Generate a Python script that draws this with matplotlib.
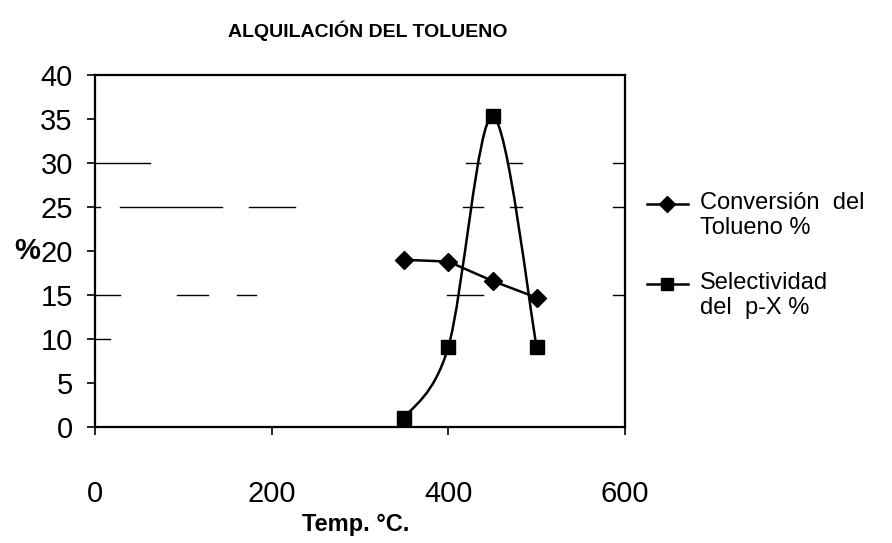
import numpy as np
import matplotlib
matplotlib.use("Agg")
import matplotlib.pyplot as plt
from matplotlib.path import Path
from matplotlib.patches import PathPatch
from matplotlib.lines import Line2D

# ---- data ----
temps = [350, 400, 450, 500]
conversion = [19.0, 18.8, 16.6, 14.7]
selectividad = [1.0, 9.1, 35.3, 9.1]
x_ticks = [0, 200, 400, 600]
y_ticks = [0, 5, 10, 15, 20, 25, 30, 35, 40]
title = "ALQUILACIÓN DEL TOLUENO"
xlabel = "Temp. °C."
ylabel = "%"
labels = ["Conversión  del\nTolueno %", "Selectividad\ndel  p-X %"]

plt.rcParams['font.family'] = ['Liberation Sans', 'DejaVu Sans']

fig = plt.figure(figsize=(8.92, 5.43), dpi=100)
ax = fig.add_axes([95/892, 1-427/543, 530/892, 352/543])
ax.set_xlim(0, 600)
ax.set_ylim(0, 40)

for s in ax.spines.values():
    s.set_linewidth(1.6)
    s.set_color('black')

ax.set_xticks(x_ticks)
ax.set_yticks(y_ticks)
ax.tick_params(axis='y', direction='out', length=6, width=1.2, pad=10, labelsize=21)
ax.tick_params(axis='x', direction='out', length=6, width=1.2, pad=32, labelsize=21)

# fragmentary gridlines as seen in the scanned original
frags = {
    30: [(0, 0.104), (0.70, 0.726), (0.777, 0.805), (0.977, 1.0)],
    25: [(0, 0.01), (0.047, 0.24), (0.29, 0.377), (0.695, 0.732), (0.783, 0.806), (0.977, 1.0)],
    15: [(0, 0.047), (0.155, 0.213), (0.268, 0.304), (0.665, 0.732), (0.977, 1.0)],
    10: [(0, 0.028)],
}
for yv, segs in frags.items():
    for a, b in segs:
        ax.axhline(yv, xmin=a, xmax=b, color='black', lw=1.0, zorder=1)

# conversion: straight line with diamonds
ax.plot(temps, conversion, color='black', lw=1.8, marker='D', markersize=9,
        markerfacecolor='black', markeredgecolor='black', zorder=3)

# selectividad: smoothed line (Bezier through the points) with squares
pts = np.column_stack([temps, selectividad])
n = len(pts)
verts = [tuple(pts[0])]
codes = [Path.MOVETO]
for i in range(n - 1):
    p0 = pts[i - 1] if i > 0 else pts[i]
    p1 = pts[i]
    p2 = pts[i + 1]
    p3 = pts[i + 2] if i + 2 < n else pts[i + 1]
    c1 = p1 + (p2 - p0) / 6.0
    c2 = p2 - (p3 - p1) / 6.0
    verts += [tuple(c1), tuple(c2), tuple(p2)]
    codes += [Path.CURVE4] * 3
ax.add_patch(PathPatch(Path(verts, codes), facecolor='none', edgecolor='black', lw=1.8, zorder=3))
ax.plot(temps, selectividad, linestyle='none', marker='s', markersize=10,
        markerfacecolor='black', markeredgecolor='black', zorder=4)

fig.text(368/892, 1-31/543, title, ha='center', va='center', fontsize=14, fontweight='bold')
fig.text(356/892, 1-525/543, xlabel, ha='center', va='center', fontsize=17, fontweight='bold')
ax.set_ylabel(ylabel, rotation=0, fontsize=21, fontweight='bold', va='center', ha='center')
ax.yaxis.set_label_coords((27 - 95) / 530, 0.5)

# legend drawn manually: handle aligned with first text line (as in the original)
markers = ['D', 's']
msizes = [8, 9]
entry_y = [204, 284]
for lab, mk, ms, yy in zip(labels, markers, msizes, entry_y):
    yf = 1 - yy/543
    fig.add_artist(Line2D([647/892, 688/892], [yf, yf], transform=fig.transFigure,
                          color='black', lw=1.8))
    fig.add_artist(Line2D([667/892], [yf], transform=fig.transFigure, color='black',
                          marker=mk, markersize=ms, markerfacecolor='black', linestyle='none'))
    fig.text(700/892, 1-(yy-12)/543, lab, ha='left', va='top', fontsize=17,
             linespacing=1.15)

fig.savefig("out.png", dpi=100)
